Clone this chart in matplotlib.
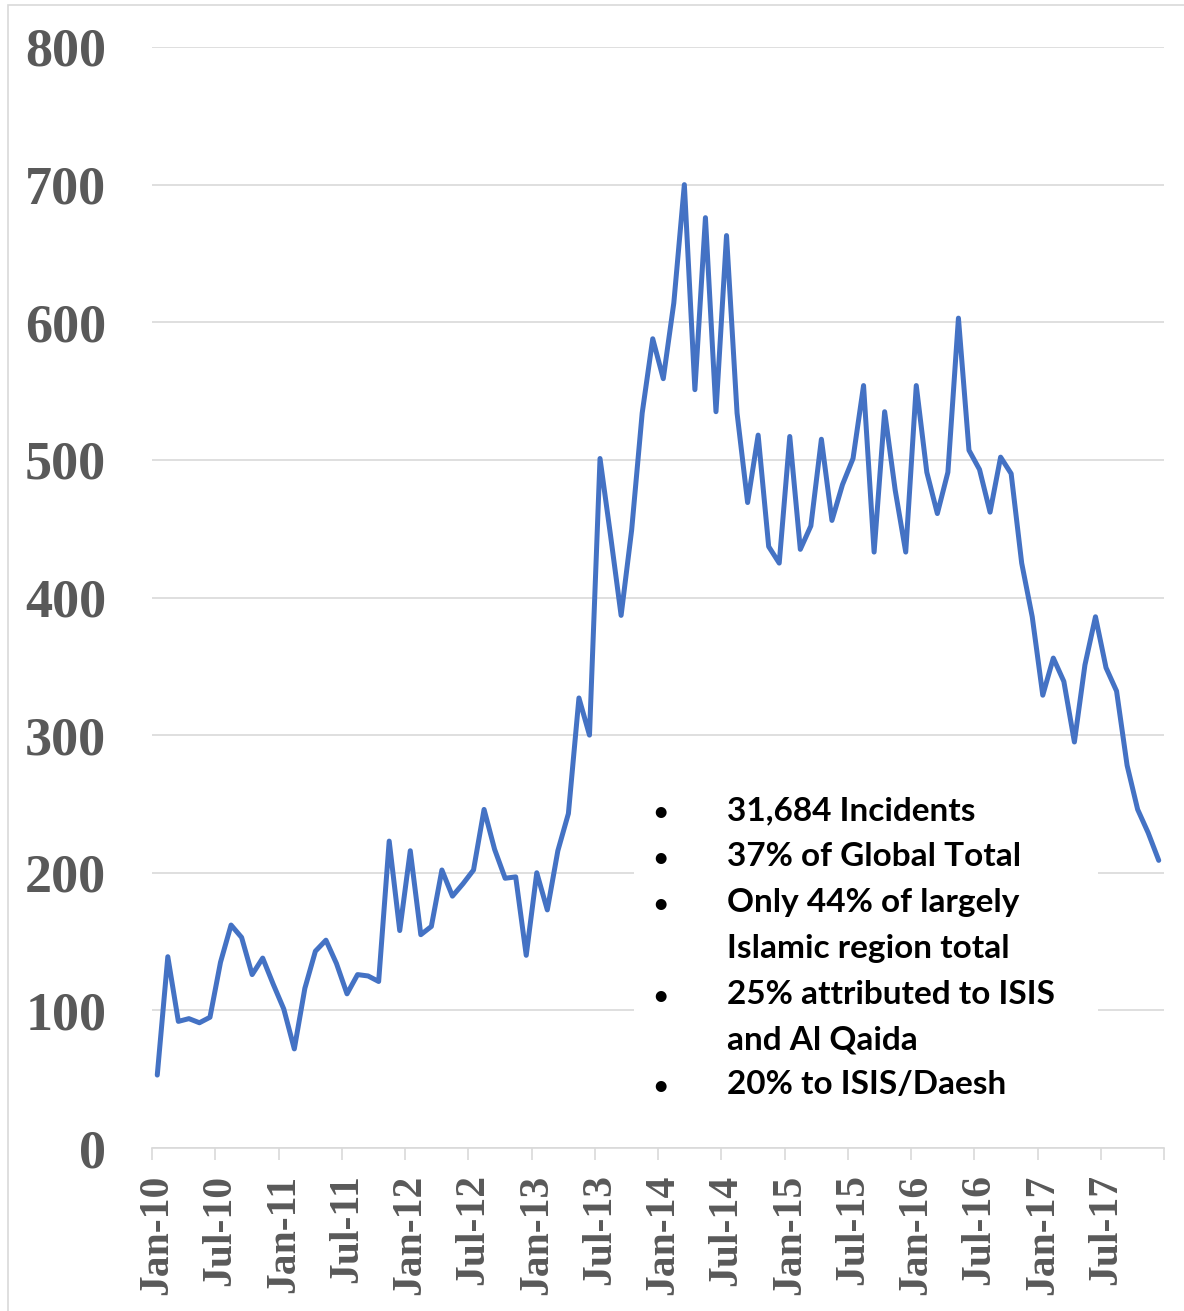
import matplotlib
matplotlib.use("Agg")
import matplotlib.pyplot as plt
from matplotlib.patches import Rectangle
from matplotlib.ticker import FixedLocator, NullFormatter, FixedFormatter

# ---- data ----
incidents = [53, 139, 92, 94, 91, 95, 135, 162, 153, 126, 138, 119, 101, 72, 116, 143, 151, 134, 112, 126, 125, 121, 223, 158, 216, 155, 161,
             202, 183, 192, 202, 246, 217, 196, 197, 140, 200, 173, 216, 243, 327, 300,
             501, 445, 387, 449, 534, 588, 559, 614, 700, 551, 676, 535, 663, 534, 469, 518, 437, 425,
             517, 435, 452, 515, 456, 482, 501, 554, 433, 535, 478, 433, 554, 491, 461, 491, 603, 507, 493, 462,
             502, 490, 425, 386, 329, 356, 339, 295, 351, 386, 349, 332, 278, 246, 229, 209]
tick_labels = ["Jan-10", "Jul-10", "Jan-11", "Jul-11", "Jan-12", "Jul-12", "Jan-13", "Jul-13",
               "Jan-14", "Jul-14", "Jan-15", "Jul-15", "Jan-16", "Jul-16", "Jan-17", "Jul-17"]
y_ticks = [0, 100, 200, 300, 400, 500, 600, 700, 800]
notes = [("•", "31,684 Incidents"),
         ("•", "37% of Global Total"),
         ("•", "Only 44% of largely"),
         ("", "Islamic region total"),
         ("•", "25% attributed to ISIS"),
         ("", "and Al Qaida"),
         ("•", "20% to ISIS/Daesh")]

W, H = 1184, 1311
fig = plt.figure(figsize=(W / 100, H / 100), dpi=100)
fig.patch.set_facecolor("white")

# chart border (partially cropped)
fig.add_artist(Rectangle((8 / W, 0 - 0.01), 1.02 - 8 / W, 1 - 5 / H + 0.01, transform=fig.transFigure,
                         fill=False, edgecolor="#d9d9d9", lw=1.2))

ax = fig.add_axes([152 / W, 1 - 1148 / H, (1164 - 152) / W, (1148 - 47) / H])
n = len(incidents)
x = list(range(n))
ax.plot(x, incidents, color="#4472C4", lw=3.6, solid_joinstyle="round", solid_capstyle="round", zorder=5)

ax.set_xlim(-0.5, n - 0.5)
ax.set_ylim(0, 800)
for s in ["top", "right", "left"]:
    ax.spines[s].set_visible(False)
ax.spines["bottom"].set_color("#d9d9d9")
ax.spines["bottom"].set_linewidth(1.2)

ax.set_yticks(y_ticks)
ax.set_yticklabels([str(v) for v in y_ticks])
ax.tick_params(axis="y", length=0, pad=33, labelsize=39, labelcolor="#595959")
for lab in ax.get_yticklabels():
    lab.set_fontfamily("Liberation Serif")
    lab.set_fontweight("bold")
ax.yaxis.grid(True, color="#d9d9d9", lw=1.2)
ax.set_axisbelow(True)

# x: major ticks at boundaries (no labels), minor ticks with labels
ax.xaxis.set_major_locator(FixedLocator([-0.5 + 6 * k for k in range(17)]))
ax.xaxis.set_major_formatter(NullFormatter())
ax.xaxis.set_minor_locator(FixedLocator([6 * k for k in range(len(tick_labels))]))
ax.xaxis.set_minor_formatter(FixedFormatter(tick_labels))
ax.tick_params(axis="x", which="major", length=8.6, width=1.2, color="#d9d9d9", direction="out")
ax.tick_params(axis="x", which="minor", length=0, pad=19, labelsize=30, labelcolor="#595959", labelrotation=90)
for lab in ax.xaxis.get_minorticklabels():
    lab.set_fontfamily("Liberation Serif")
    lab.set_fontweight("bold")

# text box
fig.add_artist(Rectangle((634 / W, 1 - 1115 / H), (1098 - 634) / W, (1115 - 768) / H,
                         transform=fig.transFigure, facecolor="white", edgecolor="none", zorder=3))
ax.set_zorder(1)
centers = [809, 855, 901, 947, 993, 1038, 1083]
for (b, t), c in zip(notes, centers):
    yb = 1 - (c + 11) / H
    if b:
        fig.text(660 / W, yb, b, ha="center", va="baseline", fontsize=18, fontweight="bold",
                 family="Lato", color="black", zorder=6)
    fig.text(727 / W, yb, t, ha="left", va="baseline", fontsize=24, fontweight="bold",
             family="Lato", color="black", zorder=6)

fig.savefig("out.png", dpi=100, facecolor="white")
